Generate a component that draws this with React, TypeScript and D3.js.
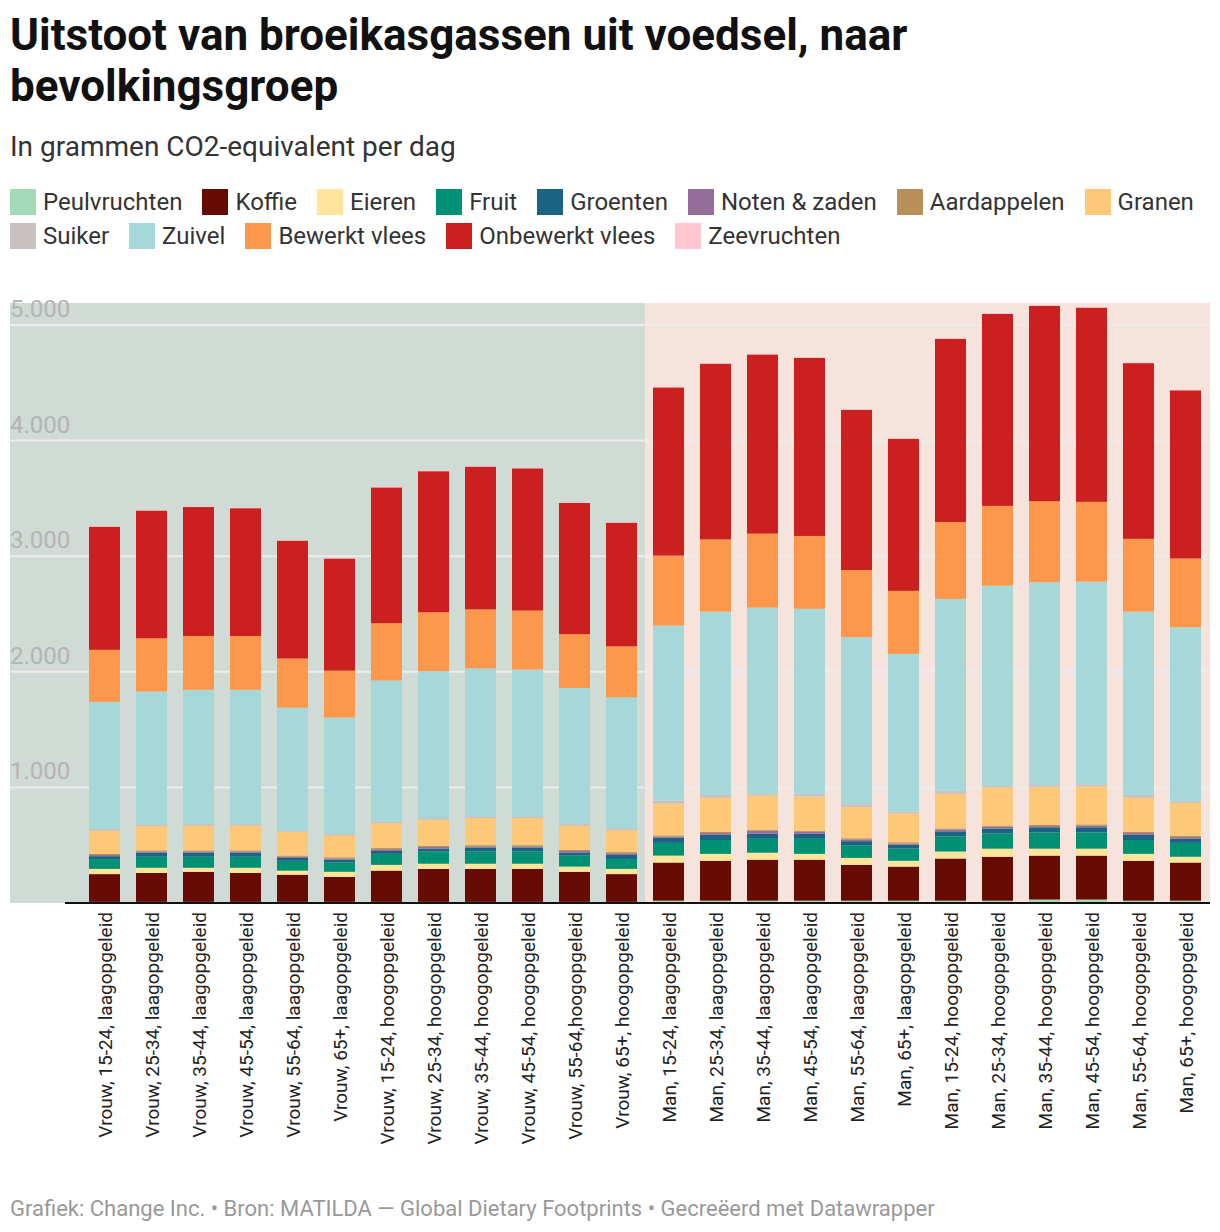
import React from 'react'
import { scaleBand, scaleLinear, stack } from 'd3'

const groups = [
  'Vrouw, 15-24, laagopgeleid', 'Vrouw, 25-34, laagopgeleid', 'Vrouw, 35-44, laagopgeleid',
  'Vrouw, 45-54, laagopgeleid', 'Vrouw, 55-64, laagopgeleid', 'Vrouw, 65+, laagopgeleid',
  'Vrouw, 15-24, hoogopgeleid', 'Vrouw, 25-34, hoogopgeleid', 'Vrouw, 35-44, hoogopgeleid',
  'Vrouw, 45-54, hoogopgeleid', 'Vrouw, 55-64,hoogopgeleid', 'Vrouw, 65+, hoogopgeleid',
  'Man, 15-24, laagopgeleid', 'Man, 25-34, laagopgeleid', 'Man, 35-44, laagopgeleid',
  'Man, 45-54, laagopgeleid', 'Man, 55-64, laagopgeleid', 'Man, 65+, laagopgeleid',
  'Man, 15-24, hoogopgeleid', 'Man, 25-34, hoogopgeleid', 'Man, 35-44, hoogopgeleid',
  'Man, 45-54, hoogopgeleid', 'Man, 55-64, hoogopgeleid', 'Man, 65+, hoogopgeleid'
]

const categories = ['Peulvruchten', 'Koffie', 'Eieren', 'Fruit', 'Groenten', 'Noten & zaden', 'Aardappelen', 'Granen', 'Suiker', 'Zuivel', 'Bewerkt vlees', 'Onbewerkt vlees', 'Zeevruchten']
const colors = ['#a3dbb8', '#660c05', '#fee59a', '#009174', '#1b6383', '#956d9a', '#b88f56', '#fdc978', '#c9c0c0', '#a6d7d9', '#fd974b', '#cb1f20', '#fec7d1']

const peulvruchten = [10, 10, 10, 10, 10, 10, 10, 10, 10, 10, 10, 10, 20, 20, 20, 20, 20, 20, 20, 20, 30, 30, 20, 20]
const koffie = [240, 250, 260, 250, 235, 215, 270, 285, 285, 285, 260, 240, 330, 345, 355, 355, 310, 295, 365, 380, 380, 380, 345, 330]
const eieren = [45, 45, 35, 45, 35, 45, 50, 45, 45, 45, 45, 45, 60, 60, 60, 50, 60, 50, 60, 70, 60, 60, 60, 50]
const fruit = [85, 95, 95, 95, 85, 80, 95, 105, 105, 105, 95, 85, 110, 120, 120, 130, 110, 105, 130, 130, 140, 140, 120, 120]
const groenten = [25, 35, 35, 35, 25, 25, 25, 25, 35, 35, 25, 35, 45, 45, 45, 45, 35, 35, 45, 45, 45, 45, 45, 35]
const noten = [10, 10, 10, 10, 10, 10, 15, 15, 10, 10, 15, 15, 10, 15, 25, 15, 15, 10, 15, 15, 10, 15, 15, 15]
const aardappelen = [10, 10, 10, 10, 10, 10, 10, 10, 10, 10, 10, 10, 10, 10, 10, 10, 10, 10, 10, 10, 10, 10, 10, 10]
const granen = [200, 210, 215, 215, 205, 190, 215, 225, 235, 235, 210, 190, 275, 295, 295, 295, 270, 250, 300, 330, 330, 330, 295, 285]
const suiker = [15, 15, 15, 15, 10, 15, 15, 15, 15, 15, 15, 15, 25, 25, 15, 25, 25, 15, 25, 15, 15, 15, 25, 15]
const zuivel = [1100, 1150, 1160, 1160, 1065, 1005, 1220, 1270, 1280, 1270, 1175, 1135, 1515, 1585, 1610, 1600, 1445, 1365, 1660, 1730, 1755, 1755, 1585, 1505]
const bewerkt = [450, 460, 465, 465, 425, 405, 495, 510, 510, 510, 465, 440, 605, 625, 640, 630, 580, 545, 665, 690, 700, 690, 630, 595]
const onbewerkt = [1065, 1105, 1115, 1105, 1020, 970, 1175, 1220, 1235, 1230, 1135, 1070, 1455, 1520, 1550, 1540, 1385, 1315, 1585, 1660, 1690, 1680, 1520, 1455]
const zeevruchten = [5, 5, 5, 5, 5, 5, 5, 5, 5, 5, 5, 5, 5, 5, 5, 5, 5, 5, 5, 5, 5, 5, 5, 5]

const series = [peulvruchten, koffie, eieren, fruit, groenten, noten, aardappelen, granen, suiker, zuivel, bewerkt, onbewerkt, zeevruchten]
const yTicks = [1000, 2000, 3000, 4000, 5000]
const fmt = (v: number) => String(v).replace(/(\d)(\d{3})$/, '$1.$2')

const FONT = 'Roboto, sans-serif'

export default function App() {
  const W = 1220, H = 1232
  const rows = groups.map((g, i) => {
    const r: any = { group: g }
    categories.forEach((c, j) => (r[c] = series[j][i]))
    return r
  })
  const stacked = stack<any>().keys(categories)(rows)
  const x = scaleBand().domain(groups).range([81, 1209]).paddingInner(0.34).paddingOuter(0.17)
  const y = scaleLinear().domain([0, 5190]).range([903, 303])
  const split = ((x(groups[11]) as number) + x.bandwidth() + (x(groups[12]) as number)) / 2

  const legendRows = [categories.slice(0, 8), categories.slice(8)]

  return (
    <svg width={W} height={H} style={{ position: 'absolute', left: 0, top: 0, fontFamily: FONT }}>
      <rect width={W} height={H} fill="#fff" />
      <text x={10} y={50} fontSize={44} fontWeight={700} fill="#111">Uitstoot van broeikasgassen uit voedsel, naar</text>
      <text x={10} y={101} fontSize={44} fontWeight={700} fill="#111">bevolkingsgroep</text>
      <text x={10} y={156} fontSize={28} fill="#333">In grammen CO2-equivalent per dag</text>

      <foreignObject x={10} y={185} width={1210} height={80}>
        <div style={{ fontFamily: FONT, fontSize: 24, color: '#333' }}>
          {legendRows.map((row, ri) => (
            <div key={ri} style={{ display: 'flex', height: 34, alignItems: 'center', whiteSpace: 'nowrap' }}>
              {row.map((c) => (
                <div key={c} style={{ display: 'flex', alignItems: 'center', marginRight: 20 }}>
                  <span style={{ width: 26, height: 26, background: colors[categories.indexOf(c)], marginRight: 7, display: 'inline-block' }} />
                  <span>{c}</span>
                </div>
              ))}
            </div>
          ))}
        </div>
      </foreignObject>

      <rect x={10} y={303} width={split - 10} height={600} fill="#cfdbd4" />
      <rect x={split} y={303} width={1210 - split} height={600} fill="#f6e4dc" />
      {yTicks.map((t) => (
        <g key={t}>
          <line x1={10} x2={1210} y1={y(t)} y2={y(t)} stroke="#ececec" strokeWidth={2} />
          <text x={10} y={y(t) - 8} fontSize={24} fill="#b4b4b4">{fmt(t)}</text>
        </g>
      ))}

      {stacked.map((s, j) => (
        <g key={s.key} fill={colors[j]}>
          {s.map((d, i) => (
            <rect key={i} x={x(groups[i])} y={y(d[1])} width={x.bandwidth()} height={Math.max(0, y(d[0]) - y(d[1]))} />
          ))}
        </g>
      ))}
      <line x1={65} x2={1210} y1={903} y2={903} stroke="#111" strokeWidth={2} />

      {groups.map((g) => {
        const cx = (x(g) as number) + x.bandwidth() / 2
        return (
          <text key={g} transform={`translate(${cx + 7},912) rotate(-90)`} textAnchor="end" fontSize={19} fill="#222">{g}</text>
        )
      })}

      <text x={10} y={1216} fontSize={22} fill="#999">Grafiek: Change Inc. • Bron: MATILDA — Global Dietary Footprints • Gecreëerd met Datawrapper</text>
    </svg>
  )
}
